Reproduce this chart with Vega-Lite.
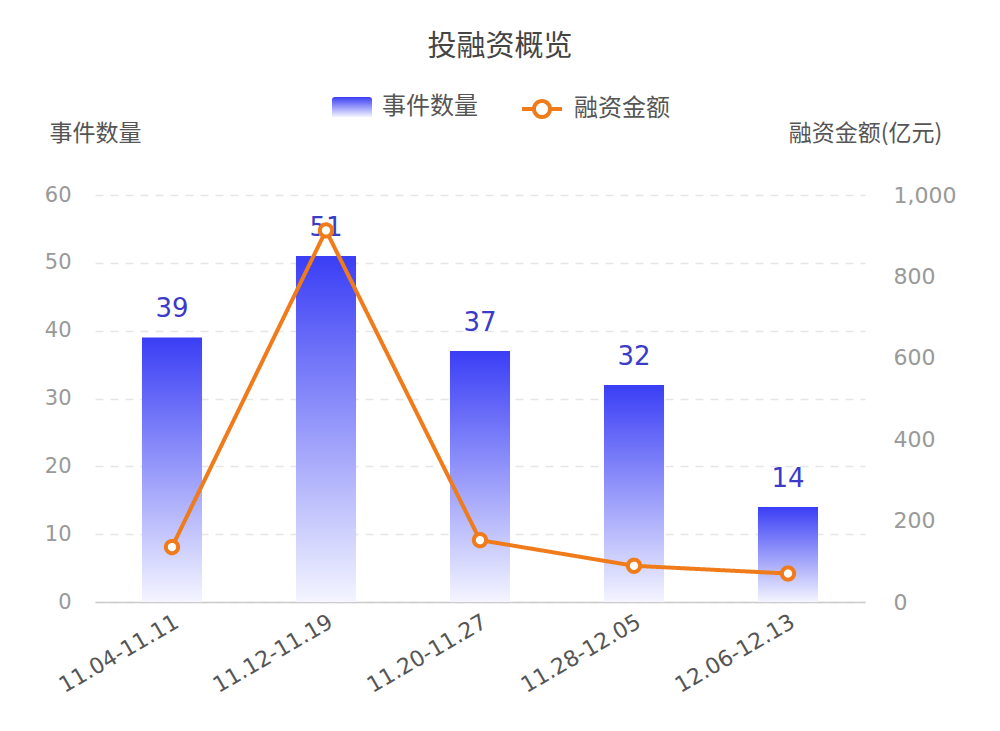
{
  "$schema": "https://vega.github.io/schema/vega-lite/v6.json",
  "width": 770,
  "height": 407,
  "autosize": {"type": "none"},
  "padding": {"left": 95, "top": 195, "right": 135, "bottom": 129},
  "background": "white",
  "title": {
    "text": "投融资概览",
    "font": "Noto Sans CJK SC",
    "fontSize": 29,
    "fontWeight": "normal",
    "color": "#444444",
    "anchor": "middle",
    "frame": "group",
    "offset": 25,
    "dx": 20
  },
  "config": {
    "view": {"stroke": null},
    "axis": {"labelFont": "DejaVu Sans", "titleFont": "Noto Sans CJK SC"}
  },
  "data": {
    "values": [
      {"period": "11.04-11.11", "count": 39, "amount": 135},
      {"period": "11.12-11.19", "count": 51, "amount": 913},
      {"period": "11.20-11.27", "count": 37, "amount": 152},
      {"period": "11.28-12.05", "count": 32, "amount": 89},
      {"period": "12.06-12.13", "count": 14, "amount": 70}
    ]
  },
  "encoding": {
    "x": {
      "field": "period",
      "type": "nominal",
      "sort": null,
      "scale": {"paddingInner": 0.61, "paddingOuter": 0.305},
      "axis": {
        "title": null,
        "labelAngle": -30,
        "labelFontSize": 22,
        "labelColor": "#555555",
        "labelAlign": "right",
        "labelBaseline": "top",
        "labelPadding": 9,
        "labelDx": -7,
        "ticks": false,
        "domainColor": "#cccccc",
        "domainWidth": 1.5,
        "grid": false
      }
    }
  },
  "layer": [
    {
      "encoding": {
        "y": {
          "field": "count",
          "type": "quantitative",
          "scale": {"domain": [0, 60], "nice": false},
          "axis": {
            "title": "事件数量",
            "titleAngle": 0,
            "titleX": 0,
            "titleY": -62,
            "titleAlign": "center",
            "titleBaseline": "middle",
            "titleFontSize": 23,
            "titleFontWeight": "normal",
            "titleColor": "#555555",
            "values": [0, 10, 20, 30, 40, 50, 60],
            "labelOverlap": false,
            "labelFontSize": 21,
            "labelColor": "#999999",
            "labelPadding": 24,
            "ticks": false,
            "domain": false,
            "grid": true,
            "gridColor": "#e6e6e6",
            "gridDash": [8, 7],
            "gridWidth": 1.5
          }
        }
      },
      "layer": [
        {
          "mark": {
            "type": "bar",
            "strokeWidth": 0,
            "fill": {
              "gradient": "linear",
              "x1": 0, "y1": 0, "x2": 0, "y2": 1,
              "stops": [
                {"offset": 0, "color": "#3a3ef5"},
                {"offset": 1, "color": "#f4f5ff"}
              ]
            }
          },
          "encoding": {
            "stroke": {
              "datum": "事件数量",
              "type": "nominal",
              "scale": {"domain": ["事件数量"], "range": ["#3a3ef5"]},
              "legend": {
                "title": null,
                "orient": "none",
                "legendX": 237,
                "legendY": -108,
                "labelFont": "Noto Sans CJK SC",
                "labelFontSize": 24,
                "labelColor": "#555555",
                "labelOffset": 10,
                "symbolSize": 1600,
                "symbolStrokeWidth": 0,
                "symbolType": "M-0.85,-0.5 H0.85 Q1,-0.5 1,-0.35 V0.5 H-1 V-0.35 Q-1,-0.5 -0.85,-0.5 Z"
              }
            }
          }
        },
        {
          "mark": {
            "type": "text",
            "dy": -28,
            "font": "DejaVu Sans",
            "fontSize": 26,
            "color": "#3b3bc9"
          },
          "encoding": {
            "text": {"field": "count", "type": "quantitative"}
          }
        }
      ]
    },
    {
      "mark": {
        "type": "line",
        "strokeWidth": 4,
        "color": "#f07b1a",
        "point": {"filled": false, "fill": "white", "stroke": "#f07b1a", "strokeWidth": 4, "size": 150, "opacity": 1}
      },
      "encoding": {
        "y": {
          "field": "amount",
          "type": "quantitative",
          "scale": {"domain": [0, 1000], "nice": false},
          "axis": {
            "orient": "right",
            "title": "融资金额(亿元)",
            "titleAngle": 0,
            "titleX": 0,
            "titleY": -62,
            "titleAlign": "center",
            "titleBaseline": "middle",
            "titleFontSize": 23,
            "titleFontWeight": "normal",
            "titleColor": "#555555",
            "values": [0, 200, 400, 600, 800, 1000],
            "format": ",d",
            "labelFontSize": 22,
            "labelColor": "#999999",
            "labelPadding": 28,
            "ticks": false,
            "domain": false,
            "grid": false
          }
        },
        "strokeDash": {
          "datum": "融资金额",
          "type": "nominal",
          "scale": {"domain": ["融资金额"], "range": [[1, 0]]},
          "legend": {
            "title": null,
            "orient": "none",
            "legendX": 425,
            "legendY": -108,
            "labelFont": "Noto Sans CJK SC",
            "labelFontSize": 24,
            "labelColor": "#555555",
            "labelOffset": 10,
            "symbolSize": 1600,
            "symbolStrokeWidth": 4,
            "symbolStrokeColor": "#f07b1a",
            "symbolFillColor": "#ffffff",
            "symbolType": "M-1,0 H-0.4 M0.4,0 H1 M-0.4,0 A0.4,0.4 0 1,1 0.4,0 A0.4,0.4 0 1,1 -0.4,0 Z",
            "encode": {
              "symbols": {
                "update": {
                  "stroke": {"value": "#f07b1a"},
                  "fill": {"value": "#ffffff"},
                  "strokeWidth": {"value": 4},
                  "opacity": {"value": 1},
                  "strokeOpacity": {"value": 1},
                  "fillOpacity": {"value": 1}
                }
              }
            }
          }
        }
      }
    }
  ],
  "resolve": {"scale": {"y": "independent"}}
}
